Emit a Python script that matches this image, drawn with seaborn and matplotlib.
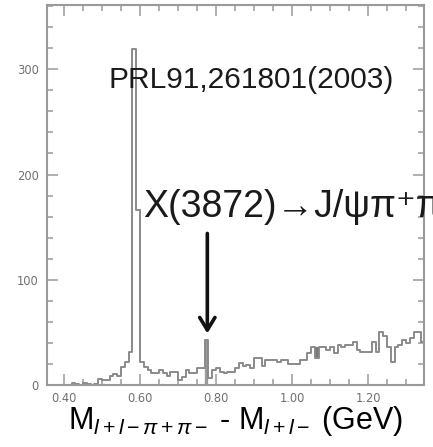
import numpy as np
import pandas as pd
import seaborn as sns
import matplotlib
import matplotlib.pyplot as plt
from matplotlib.ticker import MultipleLocator, FormatStrFormatter

# Use non-interactive backend
matplotlib.use("Agg")

OUTPUT_PNG = "out.png"

# Histogram: 10 MeV bins from 0.35 to 1.35 GeV (lower edges)
BIN_START = 0.35
BIN_WIDTH = 0.01
counts = [
    0, 0, 0, 0, 0, 0, 0, 2, 1, 0,
    2, 1, 0, 1, 6, 5, 5, 9, 10, 9,
    17, 22, 31, 319, 166, 22, 17, 14, 11, 11,
    14, 11, 9, 12, 12, 5, 8, 14, 11, 11,
    16, 16, 43, 7, 14, 16, 12, 11, 12, 12,
    16, 21, 18, 19, 16, 26, 26, 18, 24, 24,
    24, 22, 24, 24, 20, 20, 20, 24, 24, 30,
    36, 26, 36, 36, 33, 36, 30, 38, 36, 38,
    38, 41, 33, 31, 31, 31, 41, 31, 50, 47,
    36, 22, 36, 38, 43, 40, 45, 50, 50, 41,
]

# signal bin X(3872) (shaded) and a small shaded patch
signal_bin = 0.77
patch_bin = 1.06

x_ticks = [0.40, 0.60, 0.80, 1.00, 1.20]
y_ticks = [0, 100, 200, 300]

ref_label = "PRL91,261801(2003)"
decay_label = "X(3872)→J/ψπ⁺π⁻"
x_label = r"M$_{l+l-\pi+\pi-}$ - M$_{l+l-}$ (GeV)"

edges = [round(BIN_START + BIN_WIDTH * k, 3) for k in range(len(counts) + 1)]
df = pd.DataFrame({"center": np.array(edges[:-1]) + BIN_WIDTH / 2, "count": counts})

LINE_GRAY = "#8a8a8a"
AX_GRAY = "#9a9a9a"

plt.rcParams["mathtext.fontset"] = "custom"
plt.rcParams["mathtext.rm"] = "Liberation Sans"
plt.rcParams["mathtext.it"] = "Liberation Sans:italic"
plt.rcParams["mathtext.sf"] = "Liberation Sans"

fig = plt.figure(figsize=(4.33, 4.47), dpi=100)
ax = fig.add_axes([0.1085, 0.1387, 0.8705, 0.850])

sns.histplot(data=df, x="center", weights="count", bins=edges,
             element="step", fill=False, color=LINE_GRAY, linewidth=1.4, ax=ax)

# shaded X(3872) bin
sig = df[np.isclose(df["center"], signal_bin + BIN_WIDTH / 2)]
sns.histplot(data=sig, x="center", weights="count",
             bins=[signal_bin, signal_bin + BIN_WIDTH],
             element="bars", fill=True, color="#9a9a9a", alpha=1,
             edgecolor="#9a9a9a", ax=ax)

# small shaded step near 1.06 GeV
i = int(round((patch_bin - BIN_START) / BIN_WIDTH))
ax.fill_between([edges[i], edges[i + 1]], counts[i], counts[i + 1],
                color="#777777", linewidth=0)

ax.set_xlim(0.355, 1.347)
ax.set_ylim(0, 361)

ax.xaxis.set_major_locator(matplotlib.ticker.FixedLocator(x_ticks))
ax.xaxis.set_minor_locator(MultipleLocator(0.05))
ax.xaxis.set_major_formatter(FormatStrFormatter("%.2f"))
ax.yaxis.set_major_locator(matplotlib.ticker.FixedLocator(y_ticks))
ax.yaxis.set_minor_locator(MultipleLocator(20))

ax.tick_params(which="both", direction="in", top=True, right=True,
               color=AX_GRAY, width=1.1, labelcolor="#707070", labelsize=8.3)
ax.tick_params(which="major", length=8)
ax.tick_params(which="minor", length=4)
ax.tick_params(axis="x", which="major", pad=5)
ax.tick_params(axis="y", which="major", pad=6)
for lab in ax.get_xticklabels() + ax.get_yticklabels():
    lab.set_family("DejaVu Sans")

for sp in ax.spines.values():
    sp.set_color(AX_GRAY)
    sp.set_linewidth(1.5)

ax.set_xlabel(x_label, fontsize=22, family="Liberation Sans", labelpad=-1)
ax.set_ylabel("")

ax.text(0.516, 282, ref_label, fontsize=21.5, family="Liberation Sans",
        color="#1a1a1a", va="baseline")
ax.text(0.607, 160, decay_label, fontsize=27, family=["Liberation Sans", "DejaVu Sans"],
        color="#1a1a1a", va="baseline", clip_on=False)

ax.annotate("", xy=(signal_bin + 0.007, 49), xytext=(signal_bin + 0.007, 144),
            arrowprops=dict(arrowstyle="->,head_length=0.9,head_width=0.55",
                            lw=2.6, color="#111111", shrinkA=0, shrinkB=0))

plt.savefig(OUTPUT_PNG, dpi=100)
plt.close()
